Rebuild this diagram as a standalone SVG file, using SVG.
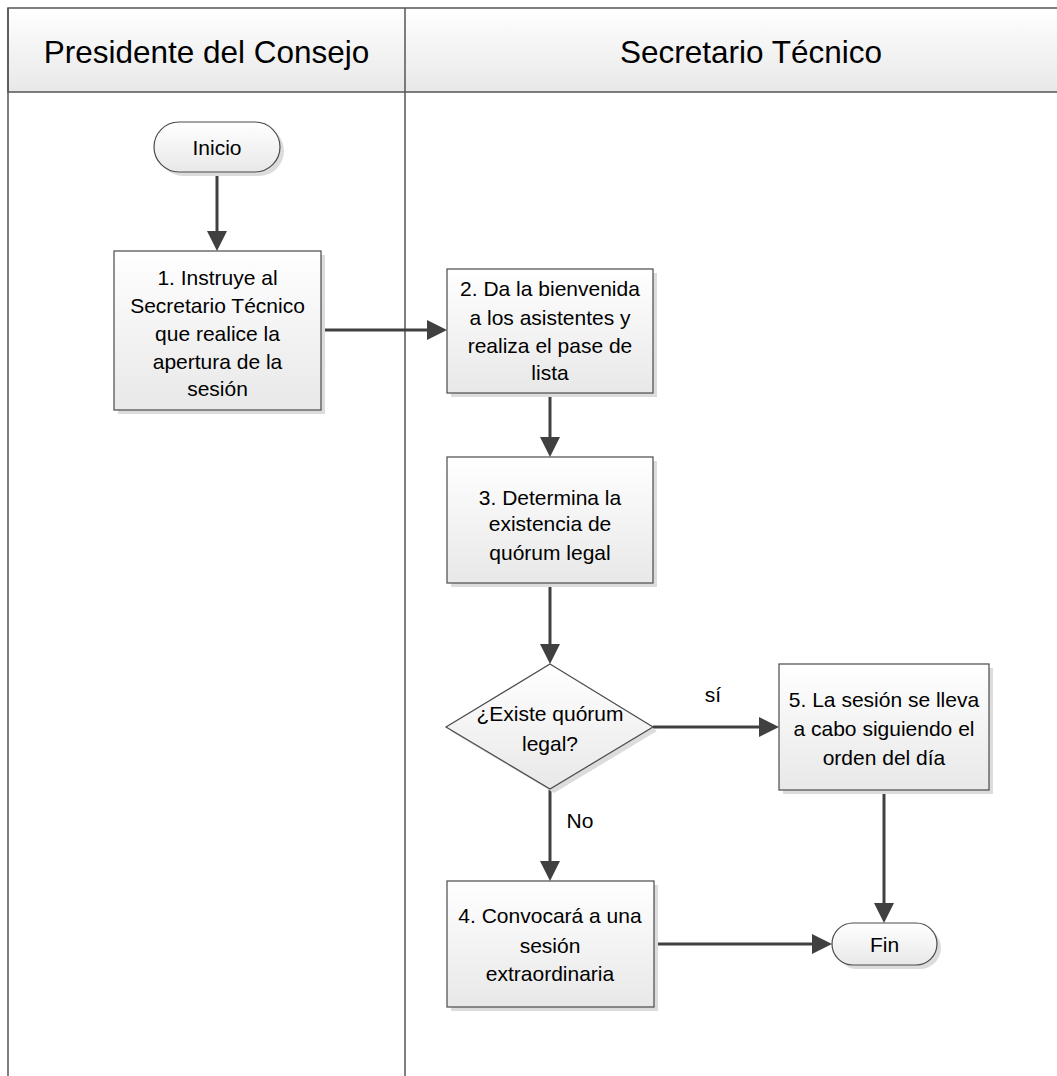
<svg xmlns="http://www.w3.org/2000/svg" width="1057" height="1076" viewBox="0 0 1057 1076">
<defs>
<linearGradient id="g" x1="0" y1="0" x2="0" y2="1">
<stop offset="0" stop-color="#ffffff"/>
<stop offset="1" stop-color="#e8e8e8"/>
</linearGradient>
<marker id="ah" viewBox="0 0 20 20" markerWidth="20" markerHeight="20" refX="10" refY="10" orient="auto" markerUnits="userSpaceOnUse">
<path d="M0,0 L20,10 L0,20 Z" fill="#404040"/>
</marker>
</defs>
<style>
.lane{fill:none;stroke:#555;stroke-width:1.5}
.hdr{fill:url(#g);stroke:#555;stroke-width:1.5}
.ht{font-family:"Liberation Sans",Arial,sans-serif;font-size:31.5px;fill:#000;text-anchor:middle}
.box{fill:url(#g);stroke:#4a4a4a;stroke-width:1.2}
.sh{fill:#dcdcdc}
.t{font-family:"Liberation Sans",Arial,sans-serif;font-size:21px;fill:#000;text-anchor:middle}
.c{fill:none;stroke:#404040;stroke-width:3;marker-end:url(#ah)}
</style>
<rect width="1057" height="1076" fill="#fff"/>
<g id="lanes">
<rect class="hdr" x="8" y="8" width="1100" height="84"/>
<line class="lane" x1="8" y1="8" x2="8" y2="1080"/>
<line class="lane" x1="405" y1="8" x2="405" y2="1080"/>
<text class="ht" x="206.5" y="63">Presidente del Consejo</text>
<text class="ht" x="751" y="63">Secretario Técnico</text>
</g>
<g id="connectors">
<path class="c" d="M217,172 V241"/>
<path class="c" d="M321,330 H437"/>
<path class="c" d="M550,393 V447"/>
<path class="c" d="M550,583 V654"/>
<path class="c" d="M653,727 H769"/>
<path class="c" d="M550,789 V871"/>
<path class="c" d="M884,790 V913"/>
<path class="c" d="M654,944 H822"/>
<text class="t" x="713" y="702">sí</text>
<text class="t" x="580" y="828">No</text>
</g>
<g id="inicio">
<rect class="sh" x="158" y="126" width="126" height="50" rx="25"/>
<rect class="box" x="154" y="122" width="126" height="50" rx="25"/>
<text class="t" x="217" y="155">Inicio</text>
</g>
<g id="n1">
<rect class="sh" x="118" y="255" width="207" height="159"/>
<rect class="box" x="114" y="251" width="207" height="159"/>
<text class="t" x="217.5" y="285">1. Instruye al</text>
<text class="t" x="217.5" y="313">Secretario Técnico</text>
<text class="t" x="217.5" y="341">que realice la</text>
<text class="t" x="217.5" y="369">apertura de la</text>
<text class="t" x="217.5" y="396">sesión</text>
</g>
<g id="n2">
<rect class="sh" x="451" y="273" width="206" height="124"/>
<rect class="box" x="447" y="269" width="206" height="124"/>
<text class="t" x="550" y="296">2. Da la bienvenida</text>
<text class="t" x="550" y="325">a los asistentes y</text>
<text class="t" x="550" y="353">realiza el pase de</text>
<text class="t" x="550" y="380">lista</text>
</g>
<g id="n3">
<rect class="sh" x="451" y="461" width="206" height="126"/>
<rect class="box" x="447" y="457" width="206" height="126"/>
<text class="t" x="550" y="505">3. Determina la</text>
<text class="t" x="550" y="531">existencia de</text>
<text class="t" x="550" y="560">quórum legal</text>
</g>
<g id="decision">
<path class="sh" d="M554,668 L657,731 L554,793 L450,731 Z"/>
<path class="box" d="M550,664 L653,727 L550,789 L446,727 Z"/>
<text class="t" x="550" y="721">¿Existe quórum</text>
<text class="t" x="550" y="751">legal?</text>
</g>
<g id="n5">
<rect class="sh" x="783" y="668" width="210" height="126"/>
<rect class="box" x="779" y="664" width="210" height="126"/>
<text class="t" x="884" y="707">5. La sesión se lleva</text>
<text class="t" x="884" y="736">a cabo siguiendo el</text>
<text class="t" x="884" y="765">orden del día</text>
</g>
<g id="n4">
<rect class="sh" x="451" y="885" width="207" height="126"/>
<rect class="box" x="447" y="881" width="207" height="126"/>
<text class="t" x="550" y="923">4. Convocará a una</text>
<text class="t" x="550" y="953">sesión</text>
<text class="t" x="550" y="981">extraordinaria</text>
</g>
<g id="fin">
<rect class="sh" x="836" y="927" width="105" height="42" rx="21"/>
<rect class="box" x="832" y="923" width="105" height="42" rx="21"/>
<text class="t" x="884.5" y="952">Fin</text>
</g>
</svg>
